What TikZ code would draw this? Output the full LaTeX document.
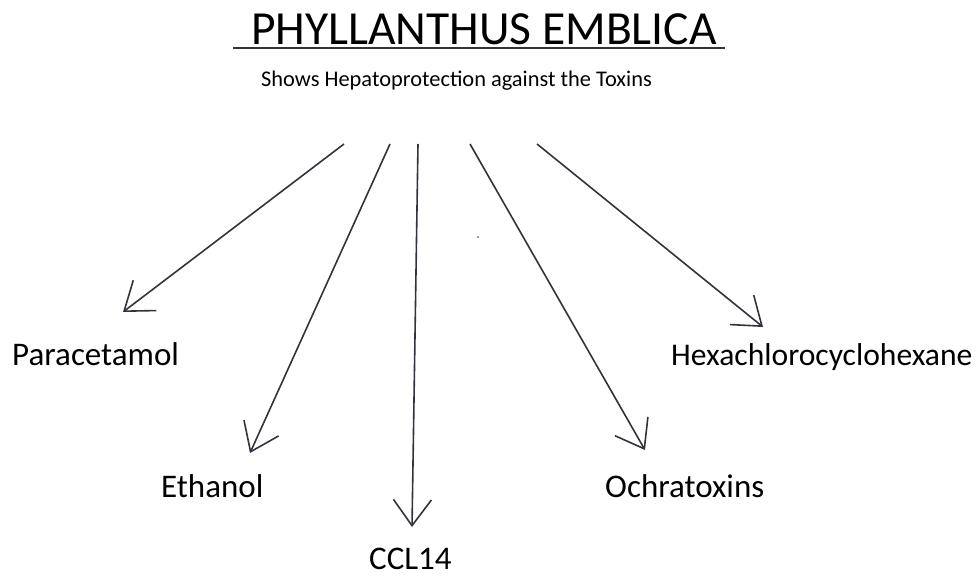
\documentclass[tikz,border=0pt]{standalone}
\usepackage{fontspec}
\setmainfont{Carlito}
\usetikzlibrary{arrows.meta}

\begin{document}
\begin{tikzpicture}[x=1pt, y=-1pt,
    toxin/.style={font=\fontsize{33}{38}\selectfont, inner sep=0pt, anchor=base west},
    toxinArrow/.style={draw=lineColour, line width=1.6pt, -{Straight Barb[length=26pt,width=38pt,line width=1.6pt]}}]
    \definecolor{lineColour}{HTML}{33333D}

    \useasboundingbox (0,0) rectangle (979,577);

    % Title and subtitle
    \node[font=\fontsize{47.5}{54}\selectfont, inner sep=0pt, anchor=base] (title) at (484,45) {PHYLLANTHUS EMBLICA};
    \draw[lineColour, line width=2pt] (233,48) -- (725,48);
    \node[font=\fontsize{22.4}{27}\selectfont, inner sep=0pt, anchor=base west] (subtitle) at (261,87) {Shows Hepatoprotection against the Toxins};

    % Toxins
    \node[toxin] (paracetamol) at (12,365) {Paracetamol};
    \node[toxin] (ethanol) at (161,497) {Ethanol};
    \node[toxin] (ccl) at (369,569) {CCL14};
    \node[toxin] (ochratoxins) at (605,497) {Ochratoxins};
    \node[toxin, font=\fontsize{31.6}{38}\selectfont] (hexa) at (671,365) {Hexachlorocyclohexane};

    % Arrow ends
    \coordinate (s1) at (344,144);
    \coordinate (s2) at (390,144);
    \coordinate (s3) at (418,144);
    \coordinate (s4) at (470,144);
    \coordinate (s5) at (537,144);
    \coordinate (t1) at (123,312);
    \coordinate (t2) at (250,453);
    \coordinate (t3) at (412,527);
    \coordinate (t4) at (645,450);
    \coordinate (t5) at (763,327);

    \foreach \i in {1,...,5}
        \draw[toxinArrow] (s\i) -- (t\i);

    \fill[lineColour] (478,237) circle (0.8);
\end{tikzpicture}
\end{document}
